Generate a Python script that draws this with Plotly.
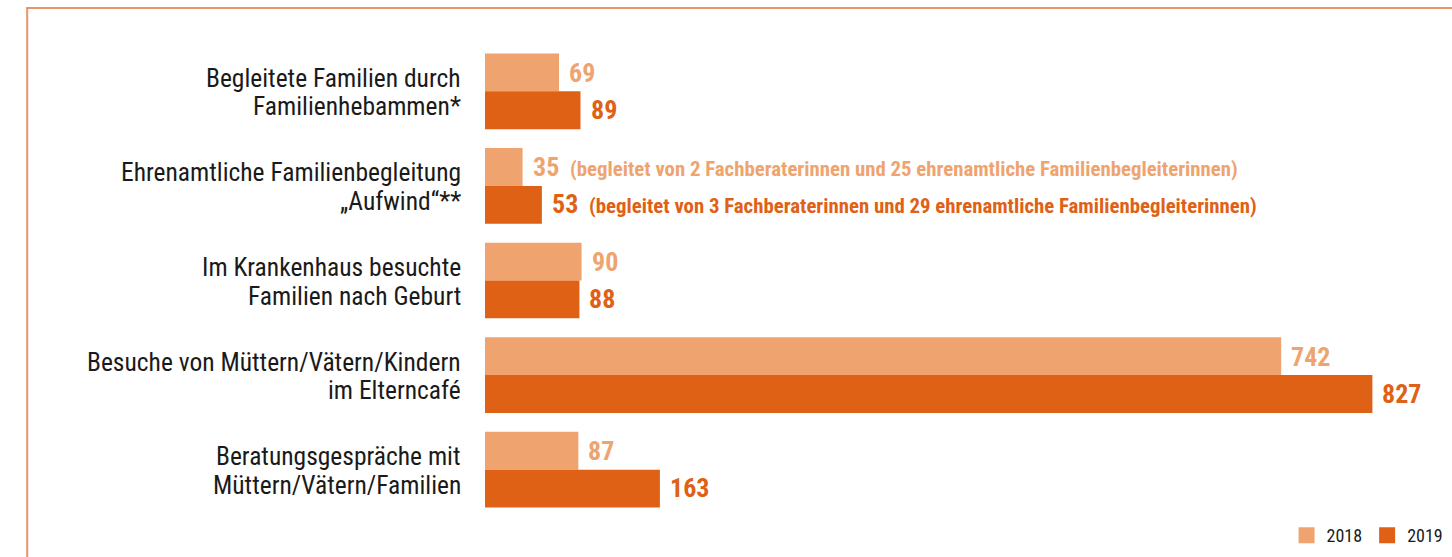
import plotly.graph_objects as go

categories = [
    "Begleitete Familien durch<br>Familienhebammen*",
    "Ehrenamtliche Familienbegleitung<br>„Aufwind“**",
    "Im Krankenhaus besuchte<br>Familien nach Geburt",
    "Besuche von Müttern/Vätern/Kindern<br>im Elterncafé",
    "Beratungsgespräche mit<br>Müttern/Vätern/Familien",
]
values_2018 = [69, 35, 90, 742, 87]
values_2019 = [89, 53, 88, 827, 163]
notes_2018 = ["", "(begleitet von 2 Fachberaterinnen und 25 ehrenamtliche Familienbegleiterinnen)", "", "", ""]
notes_2019 = ["", "(begleitet von 3 Fachberaterinnen und 29 ehrenamtliche Familienbegleiterinnen)", "", "", ""]
series_names = ["2018", "2019"]

C18 = "#EFA46F"
C19 = "#DF6116"
FRAME = "#E8956A"
FONT = "Roboto Condensed, Liberation Sans Narrow, Roboto, sans-serif"

W, H = 1452, 557
XMAX = 890
SCALE = 1.0735
ML = 485
MT = 44.4
MB = H - 516.6
PW = XMAX * SCALE
MR = W - ML - PW
PH = H - MT - MB

fig = go.Figure()
for name, vals, col in [(series_names[0], values_2018, C18), (series_names[1], values_2019, C19)]:
    fig.add_trace(go.Bar(
        y=categories, x=vals, name=name, orientation="h",
        marker=dict(color=col, line=dict(width=0)),
        hoverinfo="x+y", showlegend=False,
    ))
# legend entries (square swatches)
for name, col in [(series_names[0], C18), (series_names[1], C19)]:
    fig.add_trace(go.Scatter(
        x=[None], y=[None], mode="markers", name=name,
        marker=dict(symbol="square", size=16, color=col),
    ))

ann = []
# category labels (two lines)
for cat in categories:
    l1, l2 = cat.split("<br>")
    for txt, ys in [(l1, 13.5), (l2, -15)]:
        ann.append(dict(x=0, y=cat, xref="x", yref="y", text=txt, showarrow=False,
                        xanchor="right", yanchor="middle", xshift=-22, yshift=ys,
                        font=dict(family=FONT, size=25.5, color="#1a1a1a")))
# value labels
for vals, notes, col, ys in [(values_2018, notes_2018, C18, 18.5), (values_2019, notes_2019, C19, -18.5)]:
    for cat, v, n in zip(categories, vals, notes):
        txt = f"<b>{v}</b>"
        if n:
            txt += f"\u00a0<span style='font-size:20.8px'>\u00a0<b>{n}</b></span>"
        ann.append(dict(x=v, y=cat, xref="x", yref="y", text=txt, showarrow=False,
                        xanchor="left", yanchor="middle", xshift=8, yshift=ys,
                        font=dict(family=FONT, size=26, color=col)))


def px_x(p):
    return (p - ML) / PW


def px_y(p):
    return (H - MB - p) / PH


shapes = [
    dict(type="line", xref="paper", yref="paper", x0=px_x(26), x1=px_x(1460), y0=px_y(8.5), y1=px_y(8.5),
         line=dict(color=FRAME, width=2)),
    dict(type="line", xref="paper", yref="paper", x0=px_x(27), x1=px_x(27), y0=px_y(8), y1=px_y(570),
         line=dict(color=FRAME, width=2)),
]

fig.update_layout(
    width=W, height=H,
    margin=dict(l=ML, r=MR, t=MT, b=MB, pad=0, autoexpand=False),
    paper_bgcolor="white", plot_bgcolor="white",
    barmode="group", bargap=0.2, bargroupgap=0,
    font=dict(family=FONT, color="#1a1a1a"),
    xaxis=dict(range=[0, XMAX], visible=False, fixedrange=True),
    yaxis=dict(autorange="reversed", showticklabels=False, showgrid=False, zeroline=False,
               showline=False, ticks="", fixedrange=True),
    legend=dict(orientation="h", x=px_x(1449), xanchor="right", y=px_y(535), yanchor="middle",
                font=dict(family=FONT, size=18, color="#1a1a1a"), bgcolor="rgba(0,0,0,0)",
                itemwidth=30, traceorder="normal", itemsizing="trace"),
    annotations=ann,
    shapes=shapes,
    showlegend=True,
)

fig.write_html("out.html", config={"displayModeBar": False},
               post_script="document.body.style.margin='0';document.body.style.overflow='hidden';")
